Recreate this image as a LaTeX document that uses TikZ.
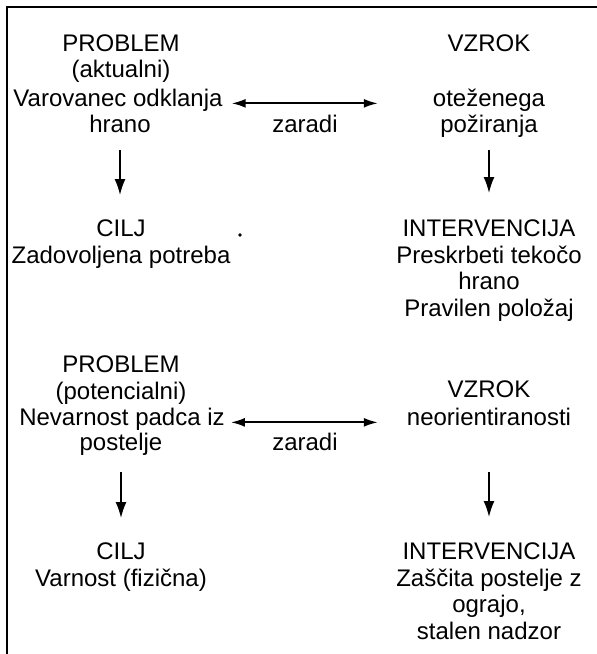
\documentclass[tikz,border=0pt]{standalone}
\usepackage{fontspec}
\setmainfont{Liberation Sans}
\usetikzlibrary{arrows.meta}

\begin{document}
\begin{tikzpicture}[x=1pt, y=-1pt,
  txt/.style={inner sep=0pt, align=center, font=\fontsize{24}{26.5}\selectfont},
  oneline/.style={txt, anchor=base},
  block/.style={txt, anchor=north},
  harrow/.style={{Latex[length=14pt,width=9pt]}-{Latex[length=14pt,width=9pt]}, line width=1.8pt},
  varrow/.style={-{Latex[length=16pt,width=11pt]}, line width=1.6pt}]
  \useasboundingbox (0,0) rectangle (597,654);

  % frame (top and left only)
  \draw[line width=2pt] (7,654) -- (7,7) -- (597,7);

  % first pair
  \node[block] (prob1) at (121,34.5) {PROBLEM\\(aktualni)};
  \node[oneline] (prob1v) at (118,106) {Varovanec odklanja};
  \node[oneline] (prob1h) at (120,132) {hrano};
  \node[oneline] (vzrok1) at (489,51.5) {VZROK};
  \node[oneline] (vzrok1o) at (489,106) {oteženega};
  \node[oneline] (vzrok1p) at (489,132) {požiranja};
  \node[oneline] (zaradi1) at (305,132) {zaradi};
  \node[block] (cilj1) at (121,220) {CILJ\\Zadovoljena potreba};
  \node[block] (interv1) at (489,220) {INTERVENCIJA\\Preskrbeti tekočo\\hrano\\Pravilen položaj};
  \fill (240,235) circle (1.8);

  \draw[harrow, shorten <=9pt, shorten >=55pt] (prob1v.mid east) -- (vzrok1o.mid west);
  \draw[varrow, shorten <=18pt, shorten >=25pt] (prob1h.south) -- (prob1h.south |- cilj1.north);
  \draw[varrow, shorten <=13pt, shorten >=27pt] (vzrok1p.south) -- (vzrok1p.south |- interv1.north);

  % second pair
  \node[block] (prob2) at (121,356) {PROBLEM\\(potencialni)};
  \node[oneline] (prob2v) at (122,425) {Nevarnost padca iz};
  \node[oneline] (prob2p) at (121,450) {postelje};
  \node[oneline] (vzrok2) at (489,397) {VZROK};
  \node[oneline] (vzrok2n) at (489,425) {neorientiranosti};
  \node[oneline] (zaradi2) at (305,450) {zaradi};
  \node[block] (cilj2) at (121,543) {CILJ\\Varnost (fizična)};
  \node[block] (interv2) at (489,543) {INTERVENCIJA\\Zaščita postelje z\\ograjo,\\stalen nadzor};

  \draw[harrow, shorten <=6pt, shorten >=29pt] (prob2v.mid east) -- (vzrok2n.mid west);
  \draw[varrow, shorten <=17pt, shorten >=25pt] (prob2p.south) -- (prob2p.south |- cilj2.north);
  \draw[varrow, shorten <=47pt, shorten >=26pt] (vzrok2n.south) -- (vzrok2n.south |- interv2.north);
\end{tikzpicture}
\end{document}
